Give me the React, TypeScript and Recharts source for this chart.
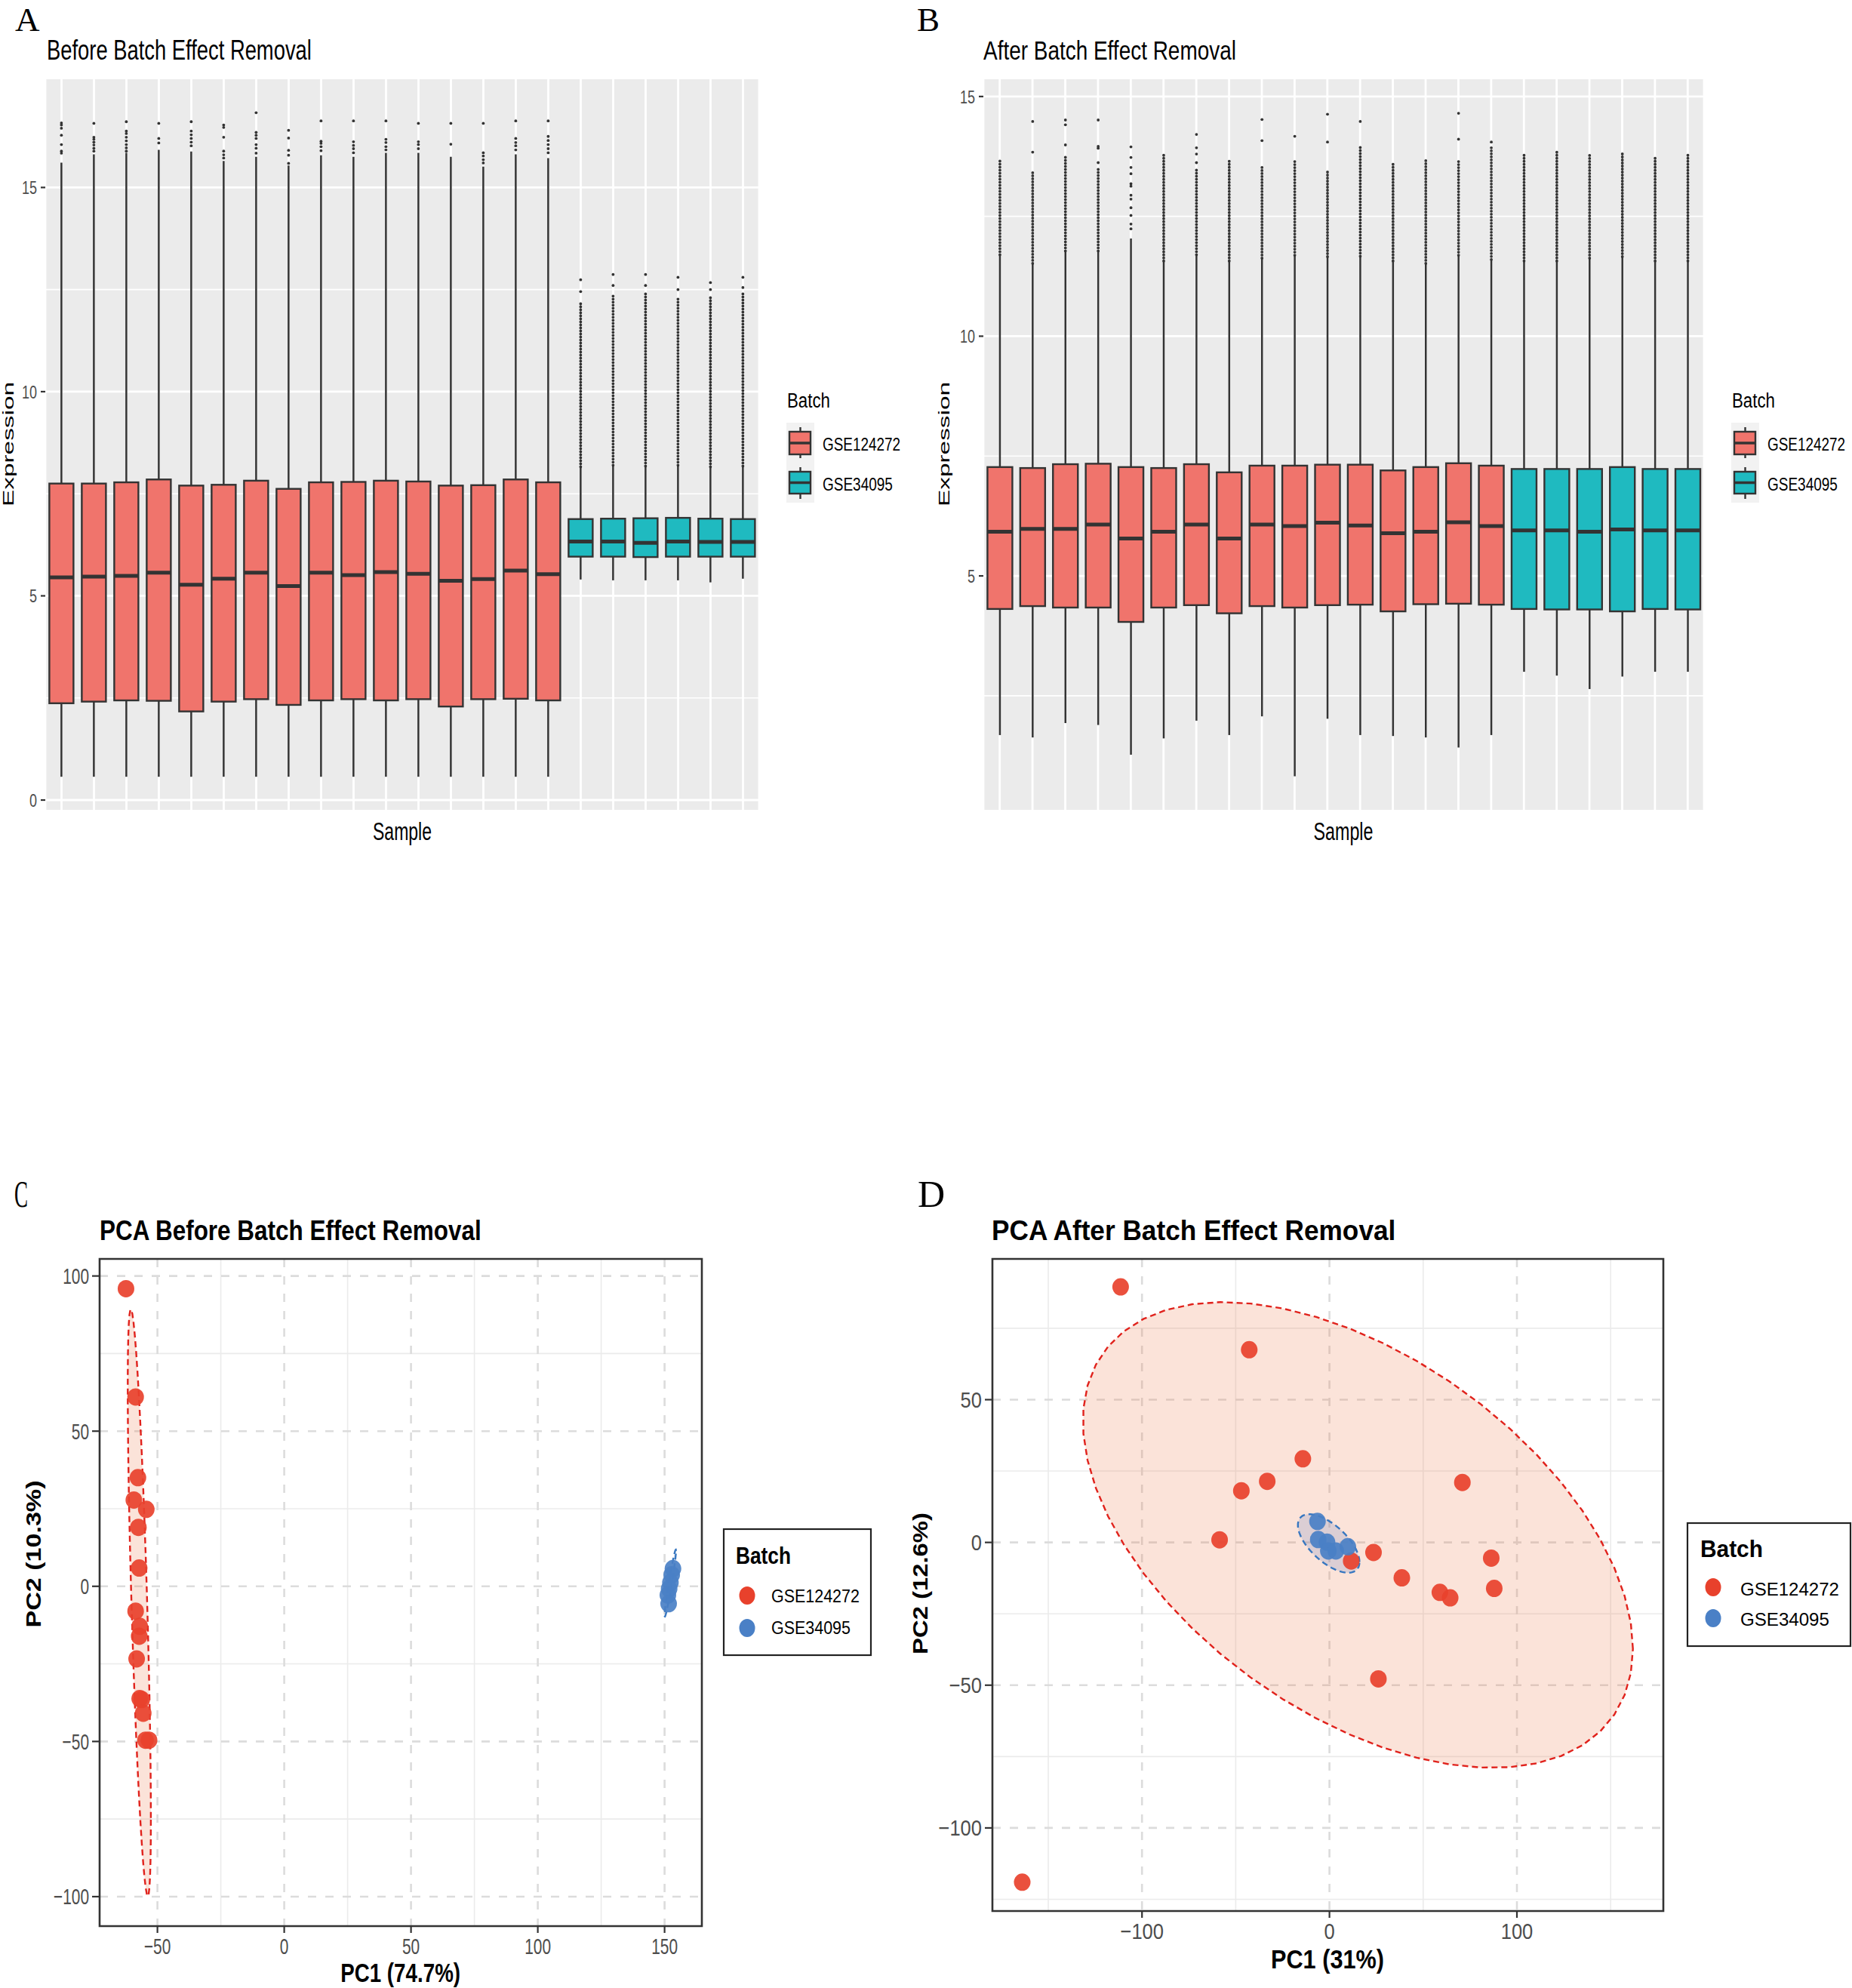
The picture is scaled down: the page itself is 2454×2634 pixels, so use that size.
import React from 'react';
import {
  ComposedChart,
  Bar,
  XAxis,
  YAxis,
  CartesianGrid,
  ScatterChart,
  Scatter,
  ReferenceArea,
} from 'recharts';

const SANS = "'Liberation Sans', Arial, Helvetica, sans-serif";
const SERIF = "'Liberation Serif', 'Times New Roman', serif";
const INK = '#333333';
const TICK_TXT = '#4D4D4D';
const BOX_RED = '#F0746C';
const BOX_CYAN = '#1FBAC0';
const PT_RED = '#E8412C';
const PT_BLUE = '#4A80C6';

// ---------------- Box plot data (A: before, B: after) ----------------
const samples = Array.from({ length: 22 }, (_, i) => `S${i + 1}`);
const batches = [
  ...Array(16).fill('GSE124272'),
  ...Array(6).fill('GSE34095'),
];

const beforeLow = [
  0.57, 0.57, 0.57, 0.57, 0.57, 0.57, 0.57, 0.57, 0.57, 0.57, 0.57, 0.57, 0.57, 0.57, 0.57, 0.57,
  5.4, 5.38, 5.38, 5.38, 5.33, 5.42,
];
const beforeQ1 = [
  2.37, 2.41, 2.44, 2.43, 2.17, 2.41, 2.47, 2.33, 2.44, 2.47, 2.44, 2.47, 2.29, 2.47, 2.48, 2.44,
  5.96, 5.96, 5.95, 5.96, 5.96, 5.96,
];
const beforeMedian = [
  5.45, 5.47, 5.49, 5.57, 5.27, 5.42, 5.57, 5.24, 5.57, 5.51, 5.58, 5.54, 5.37, 5.41, 5.62, 5.53,
  6.33, 6.33, 6.3, 6.33, 6.32, 6.32,
];
const beforeQ3 = [
  7.75, 7.75, 7.78, 7.85, 7.7, 7.72, 7.82, 7.62, 7.78, 7.79, 7.82, 7.8, 7.7, 7.71, 7.85, 7.78,
  6.88, 6.89, 6.9, 6.91, 6.89, 6.88,
];
const beforeWhiskerHigh = [
  15.61, 15.81, 15.85, 15.92, 15.88, 15.65, 15.75, 15.54, 15.79, 15.75, 15.85, 15.85, 15.75, 15.51, 15.81, 15.72,
  8.16, 8.2, 8.18, 8.2, 8.16, 8.18,
];
const beforeDenseTop = [
  15.61, 15.81, 15.85, 15.92, 15.88, 15.65, 15.75, 15.54, 15.79, 15.75, 15.85, 15.85, 15.75, 15.51, 15.81, 15.72,
  12.2, 12.4, 12.4, 12.3, 12.3, 12.4,
];
const beforeOutliers = [
  [15.84, 15.89, 16.05, 16.28, 16.45, 16.53, 16.58],
  [15.89, 15.96, 16.04, 16.11, 16.18, 16.23, 16.57],
  [15.89, 15.97, 16.05, 16.14, 16.23, 16.32, 16.38, 16.61],
  [16.09, 16.2, 16.57],
  [16.02, 16.11, 16.2, 16.29, 16.38, 16.61],
  [15.72, 15.8, 15.89, 16.23, 16.47, 16.53],
  [15.84, 15.96, 16.05, 16.2, 16.28, 16.35, 16.83],
  [15.59, 15.79, 15.91, 16.21, 16.4],
  [15.9, 16.0, 16.08, 16.13, 16.63],
  [15.85, 15.95, 16.03, 16.12, 16.63],
  [15.92, 16.0, 16.1, 16.18, 16.63],
  [15.95, 16.05, 16.12, 16.57],
  [16.06, 16.57],
  [15.6, 15.68, 15.77, 15.85, 16.57],
  [15.92, 16.02, 16.1, 16.2, 16.63],
  [15.85, 15.95, 16.05, 16.15, 16.25, 16.63],
  [12.45, 12.74],
  [12.6, 12.87],
  [12.6, 12.87],
  [12.5, 12.8],
  [12.5, 12.67],
  [12.55, 12.8],
];

const afterLow = [
  1.68, 1.63, 1.93, 1.89, 1.27, 1.61, 1.98, 1.68, 2.07, 0.82, 2.02, 1.68, 1.66, 1.63, 1.42, 1.68,
  3.0, 2.92, 2.64, 2.9, 3.0, 3.0,
];
const afterQ1 = [
  4.31, 4.37, 4.34, 4.34, 4.04, 4.34, 4.39, 4.22, 4.37, 4.34, 4.39, 4.4, 4.26, 4.41, 4.42, 4.4,
  4.31, 4.3, 4.3, 4.26, 4.31, 4.3,
];
const afterMedian = [
  5.92, 5.98, 5.98, 6.07, 5.78, 5.92, 6.07, 5.78, 6.07, 6.04, 6.11, 6.05, 5.89, 5.92, 6.12, 6.04,
  5.95, 5.95, 5.92, 5.97, 5.95, 5.95,
];
const afterQ3 = [
  7.27, 7.25, 7.33, 7.34, 7.27, 7.25, 7.33, 7.16, 7.3, 7.3, 7.32, 7.32, 7.2, 7.27, 7.35, 7.3,
  7.23, 7.23, 7.23, 7.27, 7.23, 7.23,
];
const afterWhiskerHigh = [
  11.7, 11.52, 11.78, 11.78, 12.04, 11.57, 11.7, 11.57, 11.63, 11.69, 11.66, 11.67, 11.57, 11.52, 11.69, 11.6,
  11.57, 11.57, 11.63, 11.66, 11.57, 11.57,
];
const afterDenseTop = [
  13.67, 13.46, 13.75, 13.51, 12.04, 13.8, 13.49, 13.71, 13.53, 13.65, 13.48, 13.94, 13.6, 13.67, 13.65, 13.94,
  13.79, 13.9, 13.82, 13.82, 13.74, 13.79,
];
const afterOutliers = [
  [],
  [13.84, 14.48],
  [13.99, 14.41, 14.51],
  [13.62, 13.92, 13.96, 14.51],
  [12.24, 12.34, 12.52, 12.68, 12.86, 12.94, 13.13, 13.18, 13.39, 13.52, 13.73, 13.95],
  [],
  [13.62, 13.8, 13.93, 14.21],
  [],
  [14.08, 14.52],
  [14.17],
  [14.05, 14.63],
  [14.48],
  [],
  [],
  [14.11, 14.65],
  [14.05],
  [],
  [],
  [],
  [],
  [],
  [],
];

const beforeTicks = [0, 5, 10, 15];
const beforeMinor = [2.5, 7.5, 12.5];
const afterTicks = [5, 10, 15];
const afterMinor = [2.5, 7.5, 12.5];

// ---------------- PCA data ----------------
const pcaBeforeRedX = [-62.4, -58.6, -57.7, -59.3, -54.4, -57.5, -57.2, -58.6, -57.0, -57.2, -58.2, -57.0, -56.2, -55.6, -54.7, -53.3];
const pcaBeforeRedY = [95.9, 61.0, 35.0, 27.8, 24.8, 19.0, 5.9, -8.0, -12.9, -16.1, -23.4, -36.2, -36.5, -40.9, -49.6, -49.6];
const pcaBeforeBlueX = [153.3, 152.8, 152.3, 151.8, 151.3, 151.6];
const pcaBeforeBlueY = [5.7, 3.7, 1.2, -0.8, -2.8, -5.6];

const pcaAfterRedX = [-111.4, -42.8, -14.2, -33.2, -47.0, -58.6, 70.9, 23.5, 38.6, 86.3, 87.9, 58.9, 64.4, 11.6, 26.1, -163.9];
const pcaAfterRedY = [89.5, 67.5, 29.3, 21.4, 18.1, 0.9, 21.0, -3.5, -12.4, -5.5, -16.1, -17.5, -19.4, -6.5, -47.8, -119.0];
const pcaAfterBlueX = [-6.4, -6.0, -1.3, -0.6, 3.4, 9.8];
const pcaAfterBlueY = [7.35, 1.0, 0.1, -3.0, -3.0, -1.5];

const cDomX: [number, number] = [-72.8, 164.7];
const cDomY: [number, number] = [-109.5, 105.5];
const cTicksX = [-50, 0, 50, 100, 150];
const cTicksY = [-100, -50, 0, 50, 100];
const cMinorX = [-25, 25, 75, 125];
const cMinorY = [-75, -25, 25, 75];

const dDomX: [number, number] = [-179.8, 178.1];
const dDomY: [number, number] = [-129.1, 99.3];
const dTicksX = [-100, 0, 100];
const dTicksY = [-100, -50, 0, 50];
const dMinorX = [-150, -50, 50, 150];
const dMinorY = [-125, -75, -25, 25, 75];

// ---------------- helpers ----------------
type BoxRow = {
  sample: string;
  batch: string;
  lo: number;
  q1: number;
  med: number;
  q3: number;
  hi: number;
  dense: number;
  outliers: number[];
  top: number;
  range: [number, number];
};

function buildRows(
  lo: number[], q1: number[], med: number[], q3: number[], hi: number[], dense: number[], outl: number[][],
): BoxRow[] {
  return samples.map((s, i) => {
    const top = Math.max(hi[i], dense[i], ...outl[i]);
    return {
      sample: s, batch: batches[i], lo: lo[i], q1: q1[i], med: med[i], q3: q3[i],
      hi: hi[i], dense: dense[i], outliers: outl[i], top, range: [lo[i], top],
    };
  });
}

const rowsBefore = buildRows(beforeLow, beforeQ1, beforeMedian, beforeQ3, beforeWhiskerHigh, beforeDenseTop, beforeOutliers);
const rowsAfter = buildRows(afterLow, afterQ1, afterMedian, afterQ3, afterWhiskerHigh, afterDenseTop, afterOutliers);

const BoxShape = (props: any) => {
  const { x, y, width, height, payload } = props;
  const p: BoxRow = payload;
  if (!p || x == null) return <g />;
  const t = Math.min(y, y + height);
  const b = Math.max(y, y + height);
  const px = (v: number) => t + ((p.top - v) / (p.top - p.lo)) * (b - t);
  const cx = x + width / 2;
  const fill = p.batch === 'GSE124272' ? BOX_RED : BOX_CYAN;
  return (
    <g>
      <line x1={cx} x2={cx} y1={px(p.lo)} y2={px(p.q1)} stroke={INK} strokeWidth={2.5} />
      <line x1={cx} x2={cx} y1={px(p.q3)} y2={px(p.hi)} stroke={INK} strokeWidth={2.5} />
      {p.dense > p.hi + 0.01 && (
        <line x1={cx} x2={cx} y1={px(p.hi)} y2={px(p.dense)} stroke={INK} strokeWidth={3.8}
          strokeDasharray="0 4" strokeLinecap="round" />
      )}
      {p.outliers.map((v, k) => (
        <circle key={k} cx={cx} cy={px(v)} r={1.9} fill={INK} />
      ))}
      <rect x={x} y={px(p.q3)} width={width} height={px(p.q1) - px(p.q3)} fill={fill} stroke={INK} strokeWidth={2.4} />
      <line x1={x} x2={x + width} y1={px(p.med)} y2={px(p.med)} stroke={INK} strokeWidth={5} />
    </g>
  );
};

const fmt = (v: number) => (v < 0 ? '\u2212' + Math.abs(v) : String(v));

const YTick = (props: any) => {
  const { x, y, payload, sx, size } = props;
  return (
    <text transform={`translate(${x},${y}) scale(${sx},1)`} textAnchor="end" dy="0.36em"
      fontFamily={SANS} fontSize={size} fill={TICK_TXT}>
      {fmt(payload.value)}
    </text>
  );
};
const XTick = (props: any) => {
  const { x, y, payload, sx, size } = props;
  return (
    <text transform={`translate(${x},${y}) scale(${sx},1)`} textAnchor="middle" dy="0.72em"
      fontFamily={SANS} fontSize={size} fill={TICK_TXT}>
      {fmt(payload.value)}
    </text>
  );
};
const EmptyTick = () => <g />;

// stat_ellipse(type = "t", level = 0.95): MASS::cov.trob + F quantile radius
function tEllipse(xs: number[], ys: number[], level = 0.95, segments = 51) {
  const n = xs.length;
  const nu = 5, p = 2, tol = 0.01, maxit = 25;
  const sum = (a: number[]) => a.reduce((s, v) => s + v, 0);
  let w = new Array(n).fill(1);
  let loc = [sum(xs) / n, sum(ys) / n];
  let X: number[][] = [];
  for (let it = 0; it < maxit; it++) {
    const w0 = w.slice();
    X = xs.map((xv, i) => [xv - loc[0], ys[i] - loc[1]]);
    const sw = sum(w);
    let a = 0, b = 0, c = 0;
    X.forEach(([dx, dy], i) => {
      const k = w[i] / sw;
      a += k * dx * dx; b += k * dx * dy; c += k * dy * dy;
    });
    const det = a * c - b * b;
    const Q = X.map(([dx, dy]) => (c * dx * dx - 2 * b * dx * dy + a * dy * dy) / det);
    w = Q.map((q) => (nu + p) / (nu + q));
    const sw2 = sum(w);
    loc = [sum(xs.map((xv, i) => w[i] * xv)) / sw2, sum(ys.map((yv, i) => w[i] * yv)) / sw2];
    if (w.every((wi, i) => Math.abs(wi - w0[i]) < tol)) break;
  }
  let A = 0, B = 0, C = 0;
  X.forEach(([dx, dy], i) => { A += w[i] * dx * dx; B += w[i] * dx * dy; C += w[i] * dy * dy; });
  A /= n; B /= n; C /= n;
  const r11 = Math.sqrt(A);
  const r12 = B / r11;
  const r22 = Math.sqrt(Math.max(C - r12 * r12, 0));
  const dfd = n - 1;
  const fq = (dfd / 2) * (Math.pow(1 - level, -2 / dfd) - 1);
  const radius = Math.sqrt(2 * fq);
  const pts: { x: number; y: number }[] = [];
  for (let k = 0; k <= segments; k++) {
    const th = (2 * Math.PI * k) / segments;
    const u = Math.cos(th), v = Math.sin(th);
    pts.push({ x: loc[0] + radius * u * r11, y: loc[1] + radius * (u * r12 + v * r22) });
  }
  return pts;
}

const toPts = (xs: number[], ys: number[]) => xs.map((x, i) => ({ x, y: ys[i] }));

const dotShape = (color: string) => (props: any) =>
  props.cx == null ? <g /> : (
    <ellipse cx={props.cx} cy={props.cy} rx={11} ry={11.5} fill={color} fillOpacity={0.92} />
  );
const noShape = () => <g />;

// ---------------- text helper (compressed text via measured scale) ----------------
let measureCtx: CanvasRenderingContext2D | null = null;
function naturalWidth(text: string, size: number, family: string, weight: number) {
  if (!measureCtx && typeof document !== 'undefined') {
    measureCtx = document.createElement('canvas').getContext('2d');
  }
  if (!measureCtx) return text.length * size * 0.55;
  measureCtx.font = `${weight} ${size}px ${family}`;
  return measureCtx.measureText(text).width || text.length * size * 0.55;
}

type TP = {
  x: number; y: number; size: number; text: string; len?: number;
  anchor?: 'start' | 'middle' | 'end'; bold?: boolean; serif?: boolean; rot?: boolean; sx?: number; fill?: string;
};
const Txt = ({ x, y, size, text, len, anchor = 'start', bold, serif, rot, sx = 1, fill = '#000' }: TP) => {
  const family = serif ? SERIF : SANS;
  const weight = bold ? 700 : 400;
  const k = len ? len / naturalWidth(text, size, family, weight) : 1;
  const transform = rot
    ? `translate(${x},${y}) scale(${sx},${k}) rotate(-90)`
    : `translate(${x},${y}) scale(${k * sx},1)`;
  return (
    <text transform={transform} fontSize={size} fontFamily={family} fontWeight={weight}
      textAnchor={anchor} fill={fill}>
      {text}
    </text>
  );
};

// ---------------- charts ----------------
function BoxPanel({ rows, domain, ticks, minor, left, width, margin }: any) {
  return (
    <div style={{ position: 'absolute', left, top: 0 }}>
      <ComposedChart width={width} height={1080} data={rows} margin={margin} barCategoryGap="12.5%">
        <CartesianGrid fill="#EBEBEB" stroke="#FFFFFF" strokeWidth={1.6} vertical={false}
          horizontalValues={minor} syncWithTicks={false} />
        <CartesianGrid stroke="#FFFFFF" strokeWidth={2.8} horizontalValues={ticks} fillOpacity={0} />
        <XAxis dataKey="sample" interval={0} tick={EmptyTick} tickLine={false} axisLine={false} height={1} />
        <YAxis type="number" domain={domain} ticks={ticks} allowDataOverflow width={60} interval={0}
          tickSize={6} tickMargin={5} axisLine={false} tickLine={{ stroke: INK, strokeWidth: 2.2 }}
          tick={(p: any) => <YTick {...p} sx={0.75} size={24} />} />
        <Bar dataKey="range" shape={(p: any) => <BoxShape {...p} />} isAnimationActive={false} />
      </ComposedChart>
    </div>
  );
}

function PcaPanel({ left, width, height, margin, domX, domY, ticksX, ticksY, minorX, minorY,
  redX, redY, blueX, blueY, yAxisWidth, tickSx }: any) {
  const red = toPts(redX, redY);
  const blue = toPts(blueX, blueY);
  const redEll = tEllipse(redX, redY);
  const blueEll = tEllipse(blueX, blueY);
  return (
    <div style={{ position: 'absolute', left, top: 1600 }}>
      <ScatterChart width={width} height={height} margin={margin}>
        <CartesianGrid stroke="#EBEBEB" strokeWidth={1.6} verticalValues={minorX} horizontalValues={minorY}
          syncWithTicks={false} />
        <CartesianGrid stroke="#DCDCDC" strokeWidth={2.6} strokeDasharray="11 12"
          verticalValues={ticksX} horizontalValues={ticksY} syncWithTicks={false} />
        <XAxis type="number" dataKey="x" domain={domX} ticks={ticksX} allowDataOverflow interval={0}
          height={45} tickSize={9} tickMargin={7} axisLine={false}
          tickLine={{ stroke: INK, strokeWidth: 2.2 }}
          tick={(p: any) => <XTick {...p} sx={tickSx} size={29} />} />
        <YAxis type="number" dataKey="y" domain={domY} ticks={ticksY} allowDataOverflow interval={0}
          width={yAxisWidth} tickSize={10} tickMargin={4} axisLine={false}
          tickLine={{ stroke: INK, strokeWidth: 2.2 }}
          tick={(p: any) => <YTick {...p} sx={tickSx} size={29} />} />
        <Scatter data={redEll} lineType="joint" shape={noShape} isAnimationActive={false} fill="#E0221C"
          line={{ stroke: '#E0221C', strokeWidth: 2.4, strokeDasharray: '8 5', fill: '#EE7E52', fillOpacity: 0.22 }} />
        <Scatter data={blueEll} lineType="joint" shape={noShape} isAnimationActive={false} fill="#3777C0"
          line={{ stroke: '#3777C0', strokeWidth: 2.4, strokeDasharray: '8 5', fill: '#7A8FC8', fillOpacity: 0.25 }} />
        <Scatter data={red} shape={dotShape(PT_RED)} isAnimationActive={false} fill={PT_RED} />
        <Scatter data={blue} shape={dotShape(PT_BLUE)} isAnimationActive={false} fill={PT_BLUE} />
        <ReferenceArea x1={domX[0]} x2={domX[1]} y1={domY[0]} y2={domY[1]} ifOverflow="visible"
          fill="none" fillOpacity={0} stroke={INK} strokeWidth={2.6} />
      </ScatterChart>
    </div>
  );
}

function BoxLegend({ x }: { x: number }) {
  const keyX = x;
  const cx = keyX + 18.5;
  return (
    <g>
      <Txt x={x + 1} y={540} size={28} text="Batch" len={57} />
      <rect x={keyX} y={560} width={37} height={106} fill="#F2F2F2" />
      <line x1={cx} x2={cx} y1={566} y2={607} stroke={INK} strokeWidth={2.4} />
      <rect x={keyX + 4} y={572} width={28} height={30} fill={BOX_RED} stroke={INK} strokeWidth={2.4} />
      <line x1={keyX + 4} x2={keyX + 32} y1={587} y2={587} stroke={INK} strokeWidth={3.5} />
      <line x1={cx} x2={cx} y1={619} y2={661} stroke={INK} strokeWidth={2.4} />
      <rect x={keyX + 4} y={625} width={28} height={29} fill={BOX_CYAN} stroke={INK} strokeWidth={2.4} />
      <line x1={keyX + 4} x2={keyX + 32} y1={639.5} y2={639.5} stroke={INK} strokeWidth={3.5} />
      <Txt x={x + 48} y={596.5} size={24} text="GSE124272" len={103} />
      <Txt x={x + 48} y={649.5} size={24} text="GSE34095" len={93} />
    </g>
  );
}

function PcaLegend({ x0, y0, w, h, title, dots, texts }: any) {
  return (
    <g>
      <rect x={x0} y={y0} width={w} height={h} fill="#FFFFFF" stroke="#222" strokeWidth={2.2} />
      <Txt x={title.x} y={title.y} size={32} bold text="Batch" len={title.len} />
      <ellipse cx={dots[0].x} cy={dots[0].y} rx={10.5} ry={12} fill={PT_RED} />
      <ellipse cx={dots[1].x} cy={dots[1].y} rx={10.5} ry={12} fill={PT_BLUE} />
      <Txt x={texts[0].x} y={texts[0].y} size={23} text="GSE124272" len={texts[0].len} />
      <Txt x={texts[1].x} y={texts[1].y} size={23} text="GSE34095" len={texts[1].len} />
    </g>
  );
}

export default function App() {
  return (
    <div style={{ position: 'absolute', left: 0, top: 0, width: 2454, height: 2634, background: '#FFFFFF', overflow: 'hidden' }}>
      <BoxPanel rows={rowsBefore} domain={[-0.24, 17.65]} ticks={beforeTicks} minor={beforeMinor}
        left={0} width={1040} margin={{ top: 105, right: 34, bottom: 6, left: 0 }} />
      <BoxPanel rows={rowsAfter} domain={[0.12, 15.36]} ticks={afterTicks} minor={afterMinor}
        left={1240} width={1030} margin={{ top: 105, right: 12, bottom: 6, left: 3 }} />

      <PcaPanel left={0} width={960} height={1000} margin={{ top: 68, right: 30, bottom: 3, left: 52 }}
        domX={cDomX} domY={cDomY} ticksX={cTicksX} ticksY={cTicksY} minorX={cMinorX} minorY={cMinorY}
        redX={pcaBeforeRedX} redY={pcaBeforeRedY} blueX={pcaBeforeBlueX} blueY={pcaBeforeBlueY}
        yAxisWidth={80} tickSx={0.72} />
      <PcaPanel left={1200} width={1030} height={980} margin={{ top: 68, right: 26, bottom: 3, left: 30 }}
        domX={dDomX} domY={dDomY} ticksX={dTicksX} ticksY={dTicksY} minorX={dMinorX} minorY={dMinorY}
        redX={pcaAfterRedX} redY={pcaAfterRedY} blueX={pcaAfterBlueX} blueY={pcaAfterBlueY}
        yAxisWidth={85} tickSx={0.88} />

      <svg width={2454} height={2634} style={{ position: 'absolute', left: 0, top: 0, pointerEvents: 'none' }}>
        {/* panel letters */}
        <Txt x={20} y={41} size={45} serif text="A" />
        <Txt x={1215} y={41} size={45} serif text="B" />
        <Txt x={19} y={1599} size={50} serif text="C" len={18} />
        <Txt x={1216} y={1599} size={50} serif text="D" />

        {/* titles */}
        <Txt x={62} y={79} size={36} text="Before Batch Effect Removal" len={351} />
        <Txt x={1303} y={79} size={36} text="After Batch Effect Removal" len={335} />
        <Txt x={132} y={1643} size={37} bold text="PCA Before Batch Effect Removal" len={507} />
        <Txt x={1314} y={1643} size={37} bold text="PCA After Batch Effect Removal" len={538} />

        {/* axis titles */}
        <Txt x={533} y={1113} size={33} anchor="middle" text="Sample" len={78} />
        <Txt x={1780} y={1113} size={33} anchor="middle" text="Sample" len={79} />
        <Txt x={18} y={588.5} size={33} anchor="middle" rot sx={0.64} text="Expression" len={165} />
        <Txt x={1258} y={588.5} size={33} anchor="middle" rot sx={0.64} text="Expression" len={165} />
        <Txt x={530.6} y={2626} size={35} bold anchor="middle" text="PC1 (74.7%)" len={159} />
        <Txt x={1759} y={2608} size={36} bold anchor="middle" text="PC1 (31%)" len={150} />
        <Txt x={54} y={2059} size={34} bold anchor="middle" rot sx={0.8} text="PC2 (10.3%)" len={195} />
        <Txt x={1229} y={2098} size={34} bold anchor="middle" rot sx={0.8} text="PC2 (12.6%)" len={188} />

        {/* legends */}
        <BoxLegend x={1042} />
        <BoxLegend x={2294} />
        <PcaLegend x0={959} y0={2026} w={195} h={167}
          title={{ x: 975, y: 2072, len: 73 }}
          dots={[{ x: 990, y: 2114 }, { x: 990, y: 2157 }]}
          texts={[{ x: 1022, y: 2122.5, len: 117 }, { x: 1022, y: 2165, len: 105 }]} />
        <PcaLegend x0={2236} y0={2018} w={216} h={163}
          title={{ x: 2253, y: 2063, len: 83 }}
          dots={[{ x: 2270, y: 2103 }, { x: 2270, y: 2144 }]}
          texts={[{ x: 2306, y: 2113.5, len: 131 }, { x: 2306, y: 2154, len: 118 }]} />
      </svg>
    </div>
  );
}
